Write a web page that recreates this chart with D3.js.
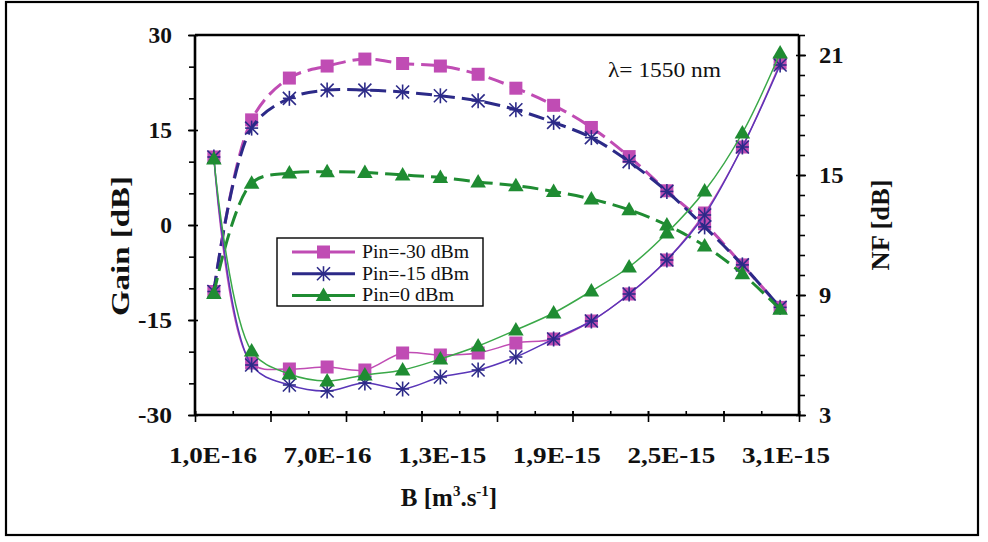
<!DOCTYPE html>
<html><head><meta charset="utf-8">
<script src="https://cdn.jsdelivr.net/npm/d3@7"></script>
<style>body{margin:0;background:#fff}svg{display:block}</style>
</head><body>
<svg id="c" width="988" height="542"></svg>
<script>
// ---- data ----
const B = [1e-16,3e-16,5e-16,7e-16,9e-16,1.1e-15,1.3e-15,1.5e-15,1.7e-15,1.9e-15,2.1e-15,2.3e-15,2.5e-15,2.7e-15,2.9e-15,3.1e-15];
const gainM30 = [-10.5,16.6,23.2,25.1,26.2,25.5,25.1,23.8,21.6,18.9,15.4,10.8,5.4,0.2,-6.3,-13.0];
const gainM15 = [-10.5,15.3,20.0,21.3,21.3,21.0,20.4,19.6,18.2,16.2,13.8,10.0,5.3,-0.3,-6.3,-13.0];
const gain0   = [-10.8,6.6,8.2,8.4,8.3,7.9,7.5,6.8,6.2,5.3,4.1,2.4,0.0,-3.3,-7.7,-13.3];
const nfM30 = [15.9,5.6,5.3,5.4,5.25,6.1,6.0,6.1,6.6,6.8,7.7,9.05,10.75,13.1,16.4,20.6];
const nfM15 = [15.9,5.5,4.5,4.2,4.6,4.3,4.9,5.25,5.9,6.8,7.7,9.05,10.75,13.0,16.4,20.5];
const nf0   = [15.8,6.2,5.05,4.7,5.0,5.25,5.8,6.45,7.25,8.1,9.2,10.4,12.1,14.2,17.1,21.1];
const seriesNames = ["Pin=-30 dBm","Pin=-15 dBm","Pin=0 dBm"];
const gainTicks = [-30,-15,0,15,30];
const nfTicks = [3,9,15,21];
const xLabelValues = [1e-16,7e-16,1.3e-15,1.9e-15,2.5e-15,3.1e-15];
const xLabels = ["1,0E-16","7,0E-16","1,3E-15","1,9E-15","2,5E-15","3,1E-15"];

// ---- layout ----
const m = {l:195, r:799, t:35, b:415};
const FONT = "'Times New Roman', 'Liberation Serif', Tinos, 'Nimbus Roman', serif";
const colM30 = "#c04cb4", colM15 = "#2c2a88", colM15nf = "#5a36b8", col0 = "#1f8c32", col0nf = "#3aa848";

const svg = d3.select('#c');
svg.append('rect').attr('x',6).attr('y',2).attr('width',972).attr('height',533)
  .attr('fill','none').attr('stroke','#000').attr('stroke-width',2.2);

const x = d3.scaleLinear().domain([0,3.2e-15]).range([m.l,m.r]);
const yG = d3.scaleLinear().domain([-30,30]).range([m.b,m.t]);
const yN = d3.scaleLinear().domain([3,22]).range([m.b,m.t]);
const xLab = d3.scaleLinear().domain([1e-16,3.1e-15]).range([213,786]);

// ---- axes ----
function styleAxis(g){ g.select('.domain').remove(); g.selectAll('line').attr('stroke','#000').attr('stroke-width',1.6); }

svg.append('g').attr('transform',`translate(${m.l},0)`)
  .call(d3.axisLeft(yG).tickValues(d3.range(-30,31,5)).tickSize(6).tickFormat(''))
  .call(styleAxis);
const gl = svg.append('g').attr('transform',`translate(${m.l},0)`)
  .call(d3.axisLeft(yG).tickValues(gainTicks).tickSize(7).tickPadding(16).tickFormat(d=>d))
  .call(styleAxis);
gl.selectAll('line').attr('x1',3);
gl.selectAll('text').attr('font-family',FONT).attr('font-weight','bold').attr('font-size',23).attr('fill','#111')
  .attr('textLength',d=>d<0?34:String(d).length*11.7).attr('lengthAdjust','spacingAndGlyphs');

svg.append('g').attr('transform',`translate(${m.r},0)`)
  .call(d3.axisRight(yN).tickValues(d3.range(3,23,1)).tickSize(6).tickFormat(''))
  .call(styleAxis);
const gr = svg.append('g').attr('transform',`translate(${m.r},0)`)
  .call(d3.axisRight(yN).tickValues(nfTicks).tickSize(7).tickPadding(13).tickFormat(d=>d))
  .call(styleAxis);
gr.selectAll('line').attr('x1',-3);
gr.selectAll('text').attr('font-family',FONT).attr('font-weight','bold').attr('font-size',23).attr('fill','#111')
  .attr('textLength',d=>String(d).length*12.3).attr('lengthAdjust','spacingAndGlyphs');

svg.append('g').attr('transform',`translate(0,${m.b})`)
  .call(d3.axisTop(x).tickValues(d3.range(0,17).map(i=>i*2e-16)).tickSize(4).tickFormat(''))
  .call(styleAxis);
const gb = svg.append('g').attr('transform',`translate(0,${m.b})`)
  .call(d3.axisBottom(x).tickValues(d3.range(0,9).map(i=>i*4e-16)).tickSize(7).tickFormat(''))
  .call(styleAxis);
gb.selectAll('line').attr('y1',-4);

svg.append('g').selectAll('text').data(xLabelValues).join('text')
  .attr('x',d=>xLab(d)).attr('y',463).attr('text-anchor','middle')
  .attr('font-family',FONT).attr('font-weight','bold').attr('font-size',23).attr('fill','#111')
  .attr('textLength',88).attr('lengthAdjust','spacingAndGlyphs')
  .text((d,i)=>xLabels[i]);

const fr = svg.append('g').attr('stroke','#000').attr('stroke-width',2.6).attr('fill','none');
fr.append('line').attr('x1',m.l).attr('x2',m.r).attr('y1',m.t).attr('y2',m.t);
fr.append('line').attr('x1',m.l).attr('x2',m.r).attr('y1',m.b).attr('y2',m.b);
fr.append('line').attr('x1',m.l).attr('x2',m.l).attr('y1',m.t).attr('y2',m.b);
fr.append('line').attr('x1',m.r).attr('x2',m.r).attr('y1',m.t).attr('y2',m.b);

// titles
svg.append('text').attr('transform','translate(129,246) rotate(-90)').attr('text-anchor','middle')
  .attr('font-family',FONT).attr('font-weight','bold').attr('font-size',26).attr('fill','#111')
  .attr('textLength',140).attr('lengthAdjust','spacingAndGlyphs').text('Gain [dB]');
svg.append('text').attr('transform','translate(889,225) rotate(-90)').attr('text-anchor','middle')
  .attr('font-family',FONT).attr('font-weight','bold').attr('font-size',26).attr('fill','#111')
  .attr('textLength',91).attr('lengthAdjust','spacingAndGlyphs').text('NF [dB]');
const xt = svg.append('text').attr('x',449).attr('y',506).attr('text-anchor','middle')
  .attr('font-family',FONT).attr('font-weight','bold').attr('font-size',25).attr('fill','#111');
xt.append('tspan').text('B [m');
xt.append('tspan').attr('font-size',15).attr('dy',-10).text('3');
xt.append('tspan').attr('font-size',25).attr('dy',10).text('.s');
xt.append('tspan').attr('font-size',15).attr('dy',-10).text('-1');
xt.append('tspan').attr('font-size',25).attr('dy',10).text(']');

svg.append('text').attr('x',608).attr('y',77).attr('font-family',FONT).attr('font-size',20).attr('fill','#111')
  .attr('textLength',113).attr('lengthAdjust','spacingAndGlyphs').text('λ= 1550 nm');

// ---- marks ----
const curve = d3.curveCatmullRom.alpha(0.5);
const gainLine = d3.line().x((d,i)=>x(B[i])).y(d=>yG(d)).curve(curve);
const nfLine = d3.line().x((d,i)=>x(B[i])).y(d=>yN(d)).curve(curve);

function square(g, pts, col){ g.selectAll(null).data(pts).join('rect')
  .attr('x',p=>p[0]-6.5).attr('y',p=>p[1]-6.5).attr('width',13).attr('height',13).attr('fill',col); }
function star(g, pts, col){ const s=6.5; pts.forEach(p=>{
  const gg=g.append('g').attr('stroke',col).attr('stroke-width',1.6);
  gg.append('line').attr('x1',p[0]-s).attr('x2',p[0]+s).attr('y1',p[1]-s).attr('y2',p[1]+s);
  gg.append('line').attr('x1',p[0]-s).attr('x2',p[0]+s).attr('y1',p[1]+s).attr('y2',p[1]-s);
  gg.append('line').attr('x1',p[0]).attr('x2',p[0]).attr('y1',p[1]-s-1).attr('y2',p[1]+s+1);
  gg.append('line').attr('x1',p[0]-s).attr('x2',p[0]+s).attr('y1',p[1]).attr('y2',p[1]);
}); }
const tri = d3.symbol().type(d3.symbolTriangle).size(105);
function triangle(g, pts, col){ g.selectAll(null).data(pts).join('path')
  .attr('d',tri).attr('transform',p=>`translate(${p[0]},${p[1]+1})`).attr('fill',col); }

const marks = svg.append('g');
const gainSeries = [[gainM30,colM30,colM30,square],[gainM15,colM15,colM15,star],[gain0,col0,col0,triangle]];
const nfSeries = [[nfM30,colM30,colM30,square],[nfM15,colM15nf,colM15,star],[nf0,col0nf,col0,triangle]];
gainSeries.forEach(([vals,lc,mc,mk])=>{
  marks.append('path').attr('d',gainLine(vals)).attr('fill','none').attr('stroke',lc)
    .attr('stroke-width',3).attr('stroke-dasharray','16,7');
  mk(marks.append('g'), vals.map((v,i)=>[x(B[i]),yG(v)]), mc);
});
nfSeries.forEach(([vals,lc,mc,mk])=>{
  marks.append('path').attr('d',nfLine(vals)).attr('fill','none').attr('stroke',lc).attr('stroke-width',1.5);
  mk(marks.append('g'), vals.map((v,i)=>[x(B[i]),yN(v)]), mc);
});

// ---- legend ----
const lg = svg.append('g');
lg.append('rect').attr('x',277).attr('y',238).attr('width',206).attr('height',68)
  .attr('fill','#fff').attr('stroke','#000').attr('stroke-width',1.4);
const rows = [[colM30,square],[colM15,star],[col0,triangle]];
rows.forEach(([c,mk],i)=>{
  const yy = 252 + i*21.7;
  lg.append('line').attr('x1',292).attr('x2',355).attr('y1',yy).attr('y2',yy).attr('stroke',c).attr('stroke-width',3);
  mk(lg.append('g'), [[323.5,yy]], c);
  lg.append('text').attr('x',362).attr('y',yy+6).attr('font-family',FONT).attr('font-size',18).attr('fill','#111')
    .attr('textLength',i===2?92:107).attr('lengthAdjust','spacingAndGlyphs').text(seriesNames[i]);
});
</script>
</body></html>
